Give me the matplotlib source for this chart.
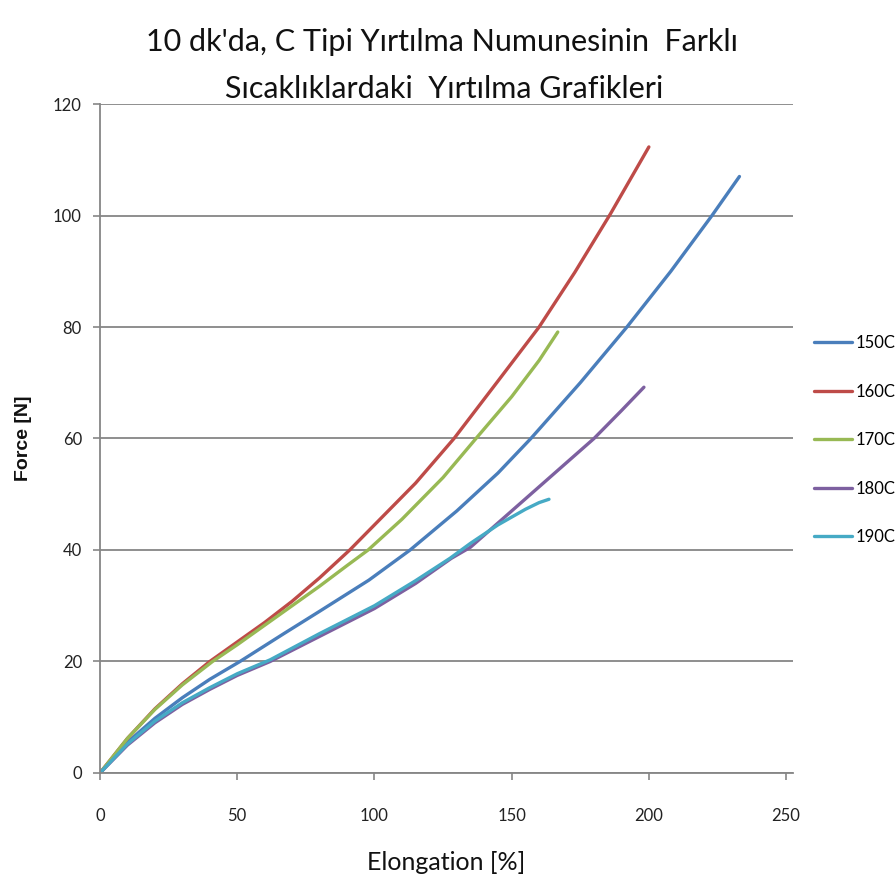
import matplotlib
matplotlib.use("Agg")
import matplotlib.pyplot as plt

plt.rcParams["font.family"] = ["Lato", "DejaVu Sans"]

# Values (Elongation [%], Force [N])
x_150 = [0, 10, 20, 30, 40, 51, 67, 80, 98, 113, 130, 145, 157, 175, 192, 208, 223, 233]
y_150 = [0, 5.5, 9.8, 13.5, 16.8, 20, 25, 29, 34.6, 40, 47, 53.8, 60, 70, 80, 90, 100, 107]

x_160 = [0, 10, 20, 30, 40, 50, 60, 70, 80, 91, 100, 115, 129, 145, 160, 173, 186, 200]
y_160 = [0, 6.2, 11.5, 16, 20, 23.5, 27, 30.8, 35, 40, 44.5, 52, 60, 70.3, 80, 89.8, 100.3, 112.3]

x_170 = [0, 10, 20, 30, 41, 50, 60, 70, 80, 90, 97.7, 110, 125, 137, 150, 160, 166.8]
y_170 = [0, 6.2, 11.4, 15.8, 20, 23, 26.5, 30, 33.5, 37.2, 40, 45.5, 53, 60, 67.5, 74, 79.1]

x_180 = [0, 10, 20, 30, 40, 50, 62, 80, 100, 115, 128, 135, 150, 165, 180, 190, 198.2]
y_180 = [0, 5, 9, 12.3, 15, 17.5, 20, 24.5, 29.5, 34, 38.5, 40.5, 47, 53.5, 60, 65, 69.2]

x_190 = [0, 10, 20, 30, 40, 50, 62, 80, 100, 115, 127.5, 135, 145, 155, 160, 163.6]
y_190 = [0, 5.2, 9.3, 12.6, 15.3, 17.8, 20.3, 25, 30, 34.5, 38.5, 41.2, 44.5, 47.3, 48.5, 49.1]

series = [
    ("150C", x_150, y_150, "#4A7EBB"),
    ("160C", x_160, y_160, "#BE4B48"),
    ("170C", x_170, y_170, "#98B954"),
    ("180C", x_180, y_180, "#7D60A0"),
    ("190C", x_190, y_190, "#46AAC5"),
]

fig = plt.figure(figsize=(8.96, 8.89), dpi=100)
ax = fig.add_axes([0.1116, 0.1305, 0.7734, 0.7525])

for label, xs, ys, color in series:
    ax.plot(xs, ys, color=color, lw=2.4, label=label,
            solid_capstyle="round", solid_joinstyle="round")

ax.set_xlim(0, 252.5)
ax.set_ylim(0, 120)
ax.set_xticks([0, 50, 100, 150, 200, 250])
ax.set_yticks([0, 20, 40, 60, 80, 100, 120])
ax.yaxis.grid(True, color="#868686", lw=1.3)
ax.set_axisbelow(True)
for s in ["top", "right"]:
    ax.spines[s].set_visible(False)
for s in ["left", "bottom"]:
    ax.spines[s].set_color("#868686")
    ax.spines[s].set_linewidth(1.3)
ax.tick_params(axis="both", colors="#868686", length=5, width=1.2, labelsize=12,
               labelcolor="#222222")
ax.tick_params(axis="x", pad=20)
ax.tick_params(axis="y", pad=8)

ax.set_xlabel("Elongation [%]", fontsize=18, labelpad=20, color="#111111")
ax.set_ylabel("Force [N]", fontsize=14, fontweight="bold", family="Liberation Sans",
              labelpad=15, color="#111111")

fig.text(0.493, 0.953, "10 dk'da, C Tipi Yırtılma Numunesinin  Farklı",
         ha="center", va="center", fontsize=22, color="#111111")
fig.text(0.496, 0.900, "Sıcaklıklardaki  Yırtılma Grafikleri",
         ha="center", va="center", fontsize=22, color="#111111")

fig.legend(loc="center left", bbox_to_anchor=(0.908, 0.505), frameon=False,
           fontsize=12, handlelength=2.3, handletextpad=0.2, labelspacing=1.95,
           borderaxespad=0, borderpad=0)

fig.savefig("out.png", dpi=100)
